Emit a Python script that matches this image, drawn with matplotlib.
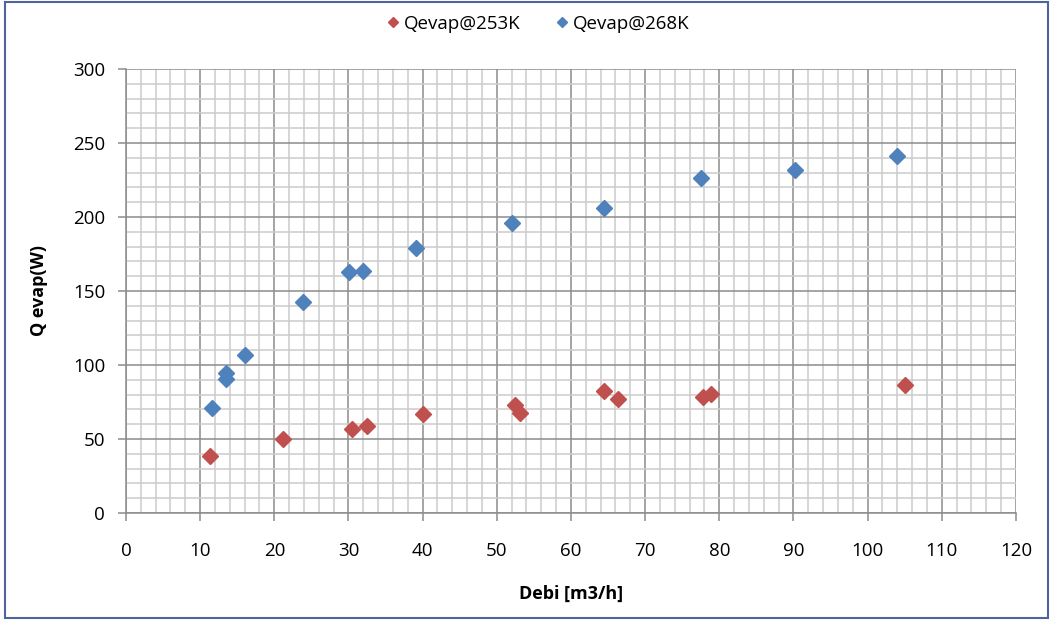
import matplotlib
matplotlib.use("Agg")
import matplotlib.pyplot as plt
from matplotlib.ticker import MultipleLocator
from matplotlib.patches import Rectangle

# data
x_253 = [11.3, 21.2, 30.5, 32.5, 40.0, 52.45, 53.1, 64.4, 66.3, 77.8, 78.9, 105.1]
q_253 = [38.5, 50.2, 56.5, 58.8, 66.9, 73.0, 67.8, 82.6, 77.0, 78.2, 80.4, 86.7]

x_268 = [11.6, 13.5, 13.5, 16.1, 23.9, 30.1, 32.0, 39.1, 52.0, 64.5, 77.5, 90.2, 104.0]
q_268 = [71.1, 94.3, 90.8, 106.8, 142.3, 163.0, 163.7, 179.3, 195.7, 205.9, 226.6, 231.8, 241.4]

label_253 = "Qevap@253K"
label_268 = "Qevap@268K"

plt.rcParams['font.family'] = ['Open Sans', 'DejaVu Sans']

fig = plt.figure(figsize=(10.5, 6.2), dpi=100)
ax = fig.add_axes([0.12, 0.1726, 0.8476, 0.7161])

ax.plot(x_253, q_253, linestyle='none', marker='D', markersize=8,
        color='#C0504D', label=label_253, zorder=3)
ax.plot(x_268, q_268, linestyle='none', marker='D', markersize=8,
        color='#4F81BD', label=label_268, zorder=3)

ax.set_xlim(0, 120)
ax.set_ylim(0, 300)
ax.xaxis.set_major_locator(MultipleLocator(10))
ax.xaxis.set_minor_locator(MultipleLocator(2))
ax.yaxis.set_major_locator(MultipleLocator(50))
ax.yaxis.set_minor_locator(MultipleLocator(10))

ax.grid(which='minor', color='#cccccc', linewidth=1.1)
ax.grid(which='major', color='#8c8c8c', linewidth=1.1)
ax.set_axisbelow(True)

for s in ['top', 'right']:
    ax.spines[s].set_visible(False)
for s in ['left', 'bottom']:
    ax.spines[s].set_color('#8c8c8c')
    ax.spines[s].set_linewidth(1.1)

ax.tick_params(which='major', direction='out', length=6, width=1.1,
               color='#8c8c8c', labelsize=13.5)
ax.tick_params(axis='x', pad=15)
ax.tick_params(axis='y', pad=9)
ax.tick_params(which='minor', length=0)

ax.set_xlabel("Debi [m3/h]", fontsize=13, fontweight='bold', labelpad=18)
ax.set_ylabel("Q evap(W)", fontsize=13, fontweight='bold', labelpad=18)

fig.legend(loc='center', bbox_to_anchor=(0.51, 0.962), ncol=2, frameon=False,
           fontsize=13.5, handletextpad=0.0, columnspacing=1.6, markerscale=0.7,
           handlelength=1.2)

# chart border
fig.patches.append(Rectangle((0.005, 0.003), 0.993, 0.993, transform=fig.transFigure,
                             fill=False, edgecolor='#4f63a0', linewidth=1.5))

fig.savefig("out.png", dpi=100)
